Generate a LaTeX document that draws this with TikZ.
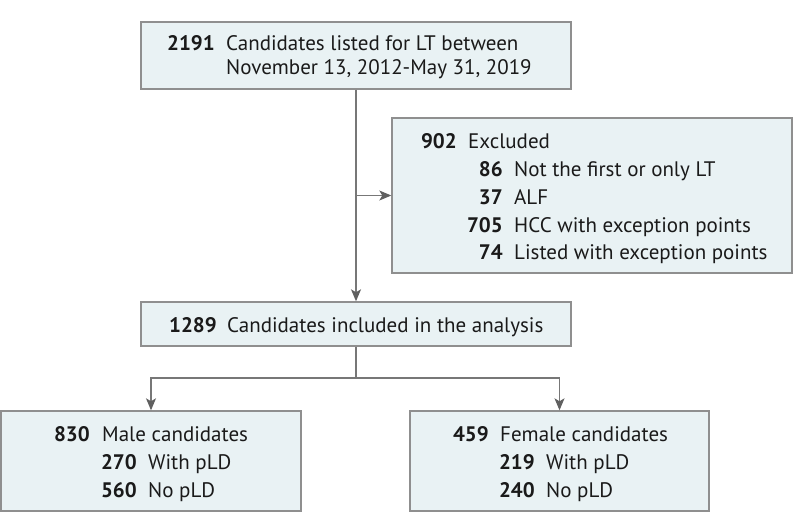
\documentclass[tikz,border=0pt]{standalone}
\usepackage{fontspec}
\setmainfont{PT Sans}
\usetikzlibrary{arrows.meta}
\definecolor{boxfill}{HTML}{E9F2F4}
\definecolor{boxline}{HTML}{8F8F8F}
\definecolor{connline}{HTML}{777777}
\definecolor{tipcol}{HTML}{606060}
\definecolor{txt}{HTML}{1A1A1A}
\begin{document}
\begin{tikzpicture}[x=1pt,y=-1pt,
  box/.style={draw=boxline, fill=boxfill, line width=1.4pt, inner sep=0pt},
  num/.style={font=\fontsize{21}{25}\selectfont\bfseries, text=txt, inner sep=0pt, anchor=base east},
  lbl/.style={font=\fontsize{21}{25}\selectfont, text=txt, inner sep=0pt, anchor=base west},
  plain/.style={draw=connline, line width=1.2pt},
  conn/.style={plain, -{Stealth[length=12pt, width=10pt, inset=3pt, color=tipcol]}}]
\useasboundingbox (0,0) rectangle (794,532);
% boxes
\node[box, minimum width=430pt, minimum height=67pt] (top) at (356,55.5) {};
\node[box, minimum width=400pt, minimum height=155pt] (excl) at (592,195.5) {};
\node[box, minimum width=430pt, minimum height=44pt] (incl) at (356,324) {};
\node[box, minimum width=300pt, minimum height=100pt] (male) at (151,461) {};
\node[box, minimum width=299pt, minimum height=100pt] (female) at (559.5,461) {};
% top box text
\node[num] (t1n) at (215,51) {2191};
\node[lbl] (t1t) at (226,51) {Candidates listed for LT between};
\node[lbl] (t2t) at (226,75) {November 13, 2012-May 31, 2019};
% excluded text
\node[num] (e0n) at (457,148.3) {902};
\node[lbl] (e0t) at (468,148.3) {Excluded};
\node[num] (e1n) at (503,176) {86};
\node[lbl] (e1t) at (514,176) {Not the first or only LT};
\node[num] (e2n) at (503,204) {37};
\node[lbl] (e2t) at (514,204) {ALF};
\node[num] (e3n) at (503,232) {705};
\node[lbl] (e3t) at (514,232) {HCC with exception points};
\node[num] (e4n) at (503,259.5) {74};
\node[lbl] (e4t) at (514,259.5) {Listed with exception points};
% included text
\node[num] (i1n) at (217,332) {1289};
\node[lbl] (i1t) at (227,332) {Candidates included in the analysis};
% male text
\node[num] (m0n) at (90,441) {830};
\node[lbl] (m0t) at (102,441) {Male candidates};
\node[num] (m1n) at (137,469) {270};
\node[lbl] (m1t) at (148,469) {With pLD};
\node[num] (m2n) at (137,497) {560};
\node[lbl] (m2t) at (148,497) {No pLD};
% female text
\node[num] (f0n) at (489,441) {459};
\node[lbl] (f0t) at (500,441) {Female candidates};
\node[num] (f1n) at (535,469) {219};
\node[lbl] (f1t) at (546,469) {With pLD};
\node[num] (f2n) at (535,497) {240};
\node[lbl] (f2t) at (546,497) {No pLD};
% connectors
\draw[conn] (top.south) -- (incl.north);
\draw[conn] (top.south |- excl.west) -- (excl.west);
\coordinate (split) at (356,378);
\draw[plain] (incl.south) -- (split);
\draw[conn] (split) -| (male.north);
\draw[conn] (split) -| (female.north);
\end{tikzpicture}
\end{document}
